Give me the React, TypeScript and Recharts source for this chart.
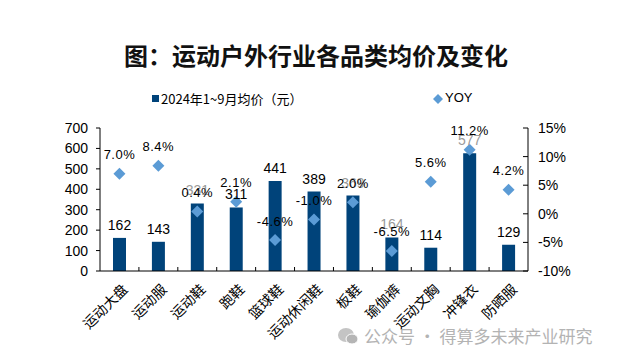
import React from "react";
import { ComposedChart, Bar, Scatter, XAxis, YAxis, LabelList } from "recharts";

const categories = ["运动大盘", "运动服", "运动鞋", "跑鞋", "篮球鞋", "运动休闲鞋", "板鞋", "瑜伽裤", "运动文胸", "冲锋衣", "防晒服"];
const avgPrice = [162, 143, 331, 311, 441, 389, 369, 164, 114, 577, 129];
const yoy = [7.0, 8.4, 0.4, 2.1, -4.6, -1.0, 2.0, -6.5, 5.6, 11.2, 4.2];
const leftTicks = [0, 100, 200, 300, 400, 500, 600, 700];
const rightTicks = [-10, -5, 0, 5, 10, 15];

// price labels that sit under a YOY label are drawn faded in the reference
const fadedPrice = [2, 6, 7, 9];

const BAR = "#00437a";
const DOT = "#5b9bd5";
const FONT = "'Liberation Sans', Arial, 'Noto Sans CJK SC', sans-serif";
const CJK = "'Noto Sans CJK SC', sans-serif";

const data = categories.map((name, i) => ({ name, price: avgPrice[i], yoy: yoy[i] }));

const Diamond = (p: { cx?: number; cy?: number }) => {
  const { cx = 0, cy = 0 } = p;
  const r = 6;
  return <polygon points={`${cx},${cy - r} ${cx + r},${cy} ${cx},${cy + r} ${cx - r},${cy}`} fill={DOT} />;
};

// category label, rotated, plus a small upward tick on the right band edge
const CatTick = (p: { x?: number; y?: number; index?: number; payload?: { value: string; offset?: number } }) => {
  const { x = 0, y = 0, index = 0, payload } = p;
  const half = payload?.offset || 19.45;
  const axisY = y - 8;
  return (
    <g>
      {index < categories.length - 1 && (
        <line x1={x + half} x2={x + half} y1={axisY} y2={axisY - 4} stroke="#000" />
      )}
      <text
        x={0}
        y={0}
        transform={`translate(${x + 5},${y + 7}) rotate(-45)`}
        textAnchor="end"
        dominantBaseline="central"
        fontSize={14}
        fill="#000"
        fontFamily={CJK}
      >
        {payload?.value}
      </text>
    </g>
  );
};

const PriceLabel = (p: { x?: number; y?: number; width?: number; value?: number; index?: number }) => {
  const { x = 0, y = 0, width = 0, value, index = 0 } = p;
  return (
    <text
      x={x + width / 2}
      y={y - 8}
      textAnchor="middle"
      fontSize={14}
      fontFamily={FONT}
      fill={fadedPrice.includes(index) ? "#9a9a9a" : "#000"}
    >
      {value}
    </text>
  );
};

export default function App() {
  return (
    <div style={{ position: "absolute", left: 0, top: 0, width: 618, height: 361, background: "#fff" }}>
      <div
        style={{
          position: "absolute",
          left: 0,
          width: 618,
          top: 37,
          textAlign: "center",
          paddingLeft: 14,
          boxSizing: "border-box",
          fontSize: 24,
          fontWeight: 700,
          fontFamily: CJK,
          color: "#111",
        }}
      >
        图：运动户外行业各品类均价及变化
      </div>
      <div style={{ position: "absolute", top: 90, left: 0, width: 618, height: 20, fontFamily: FONT, fontSize: 13, color: "#000" }}>
        <span style={{ position: "absolute", left: 152, top: 5, width: 7, height: 7, background: BAR }} />
        <span style={{ position: "absolute", left: 161, top: -1, fontFamily: CJK }}>2024年1~9月均价（元）</span>
        <svg style={{ position: "absolute", left: 433, top: 4 }} width={10} height={10}>
          <polygon points="5,0 10,5 5,10 0,5" fill={DOT} />
        </svg>
        <span style={{ position: "absolute", left: 445, top: 0 }}>YOY</span>
      </div>
      <ComposedChart
        width={618}
        height={361}
        data={data}
        margin={{ top: 128, right: 40, bottom: 10, left: 40 }}
        style={{ position: "absolute", left: 0, top: 0 }}
      >
        <XAxis
          dataKey="name"
          interval={0}
          height={80}
          tick={<CatTick />}
          tickLine={false}
          axisLine={{ stroke: "#000" }}
        />
        <YAxis
          yAxisId="left"
          width={60}
          domain={[0, 700]}
          ticks={leftTicks}
          interval={0}
          tick={{ fontSize: 14, fill: "#000", fontFamily: FONT }}
          tickSize={4}
          tickMargin={8}
          tickLine={{ stroke: "#000" }}
          axisLine={{ stroke: "#000" }}
        />
        <YAxis
          yAxisId="right"
          orientation="right"
          width={50}
          domain={[-10, 15]}
          ticks={rightTicks}
          interval={0}
          tickFormatter={(v: number) => `${v}%`}
          tick={{ fontSize: 14, fill: "#000", fontFamily: FONT }}
          tickSize={-5}
          tickMargin={15}
          tickLine={{ stroke: "#000" }}
          axisLine={{ stroke: "#000" }}
        />
        <Bar yAxisId="left" dataKey="price" fill={BAR} barSize={13} isAnimationActive={false}>
          <LabelList dataKey="price" content={<PriceLabel />} />
        </Bar>
        <Scatter yAxisId="right" dataKey="yoy" shape={<Diamond />} isAnimationActive={false}>
          <LabelList
            dataKey="yoy"
            position="top"
            offset={10}
            formatter={(v: unknown) => `${Number(v).toFixed(1)}%`}
            style={{ fontSize: 13, fill: "#000", fontFamily: FONT, letterSpacing: 0.5 }}
          />
        </Scatter>
      </ComposedChart>
      <div
        style={{
          position: "absolute",
          left: 338,
          top: 323,
          display: "flex",
          alignItems: "center",
          gap: 6,
          fontSize: 17,
          color: "#b3b3b3",
          fontFamily: CJK,
        }}
      >
        <svg width={20} height={18}>
          <ellipse cx={8} cy={8} rx={8} ry={7} fill="#c4c4c4" />
          <ellipse cx={14} cy={12} rx={6} ry={5} fill="#b5b5b5" stroke="#fff" strokeWidth={1} />
        </svg>
        <span>公众号 · 得算多未来产业研究</span>
      </div>
    </div>
  );
}
